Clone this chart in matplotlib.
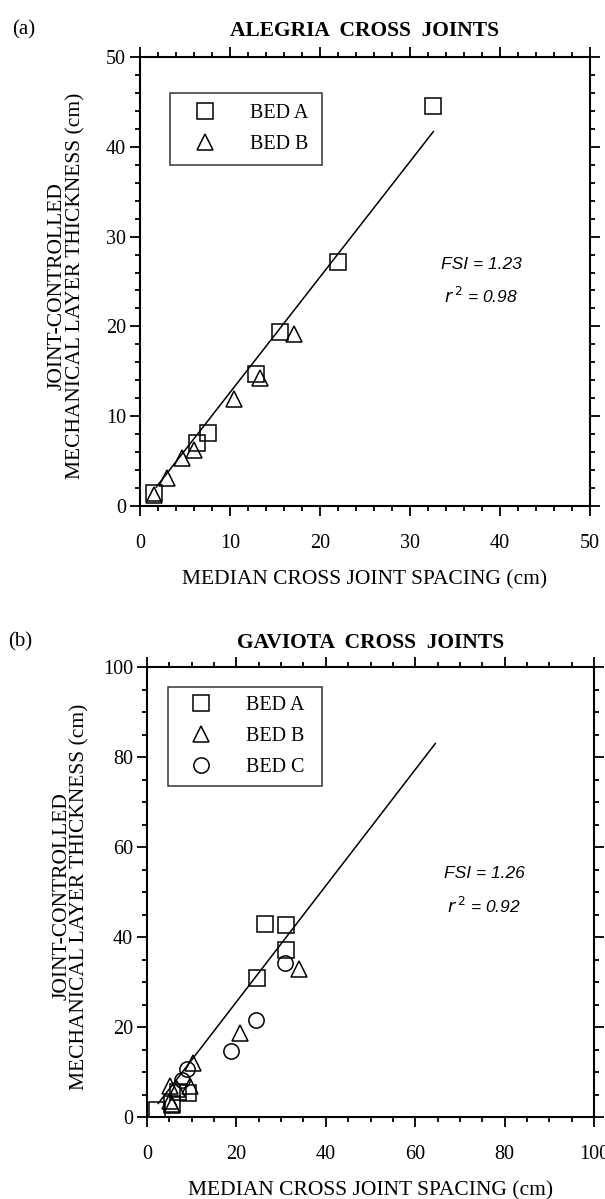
import matplotlib
matplotlib.use("Agg")
import matplotlib.pyplot as plt
from matplotlib.ticker import MultipleLocator

SERIF = "Liberation Serif"
SANS = "Liberation Sans"

# --- panel (a): Alegria cross joints ---
a_bedA_x = [1.5, 6.3, 7.5, 12.9, 15.6, 22.0, 32.5]
a_bedA_y = [1.5, 7.0, 8.1, 14.7, 19.4, 27.2, 44.5]
a_bedB_x = [1.5, 3.0, 4.7, 6.0, 10.4, 13.3, 17.1]
a_bedB_y = [1.2, 3.1, 5.4, 6.2, 11.9, 14.2, 19.2]
a_fit_x = [1.8, 32.6]
a_fit_y = [2.1, 41.7]

# --- panel (b): Gaviota cross joints ---
b_bedA_x = [2.2, 5.5, 7.0, 9.2, 24.5, 26.4, 31.2, 31.1]
b_bedA_y = [1.5, 3.0, 5.5, 5.3, 30.8, 43.0, 42.7, 37.1]
b_bedB_x = [5.1, 5.5, 5.1, 6.6, 9.6, 10.2, 20.8, 34.0]
b_bedB_y = [3.6, 2.7, 6.9, 6.2, 6.9, 12.0, 18.6, 33.0]
b_bedC_x = [7.8, 9.0, 18.9, 24.4, 30.9]
b_bedC_y = [8.2, 10.7, 14.7, 21.5, 34.2]
b_fit_x = [2.5, 64.5]
b_fit_y = [3.0, 83.0]

fig = plt.figure(figsize=(6.05, 11.99), dpi=100)
W, H = 605.0, 1199.0


def make_axes(x0, x1, ytop, ybot):
    return fig.add_axes([x0 / W, 1 - ybot / H, (x1 - x0) / W, (ybot - ytop) / H])


def style_axes(ax, lim, major, minor):
    ax.set_xlim(0, lim)
    ax.set_ylim(0, lim)
    ax.xaxis.set_major_locator(MultipleLocator(major))
    ax.xaxis.set_minor_locator(MultipleLocator(minor))
    ax.yaxis.set_major_locator(MultipleLocator(major))
    ax.yaxis.set_minor_locator(MultipleLocator(minor))
    for s in ax.spines.values():
        s.set_linewidth(1.5)
    ax.tick_params(which="both", direction="out", top=True, right=True,
                   labeltop=False, labelright=False, width=1.3)
    ax.tick_params(which="major", length=7)
    ax.tick_params(which="minor", length=3.5)
    ax.tick_params(axis="x", which="major", pad=13)
    ax.tick_params(axis="y", which="major", pad=3)
    for lab in ax.get_xticklabels() + ax.get_yticklabels():
        lab.set_fontfamily(SERIF)
        lab.set_fontsize(14.5)
    ax.set_xlabel("MEDIAN CROSS JOINT SPACING (cm)", fontfamily=SERIF, fontsize=15.5)
    ax.set_ylabel("JOINT-CONTROLLED\nMECHANICAL LAYER THICKNESS (cm)",
                  fontfamily=SERIF, fontsize=15.5, linespacing=0.95)


mk = dict(linestyle="none", markerfacecolor="none", markeredgecolor="black",
          markeredgewidth=1.1, markersize=11)
leg_kw = dict(loc="upper left", mode="expand", frameon=True, fancybox=False,
              edgecolor="black", borderaxespad=0, handletextpad=1.0,
              handlelength=2.4, prop={"family": SERIF, "size": 14.5})

# panel (a)
ax1 = make_axes(140, 590, 57, 506)
style_axes(ax1, 50, 10, 2)
ax1.plot(a_fit_x, a_fit_y, color="black", lw=1.1)
hA, = ax1.plot(a_bedA_x, a_bedA_y, marker="s", label="BED A", **mk)
hB, = ax1.plot(a_bedB_x, a_bedB_y, marker="^", label="BED B", **mk)
leg = ax1.legend(handles=[hA, hB], bbox_to_anchor=(0.067, 0.753, 0.337, 0.167),
                 borderpad=0.55, labelspacing=0.6, **leg_kw)
leg.get_frame().set_linewidth(1.1)
ax1.text(37.9, 26.9, "FSI = 1.23", fontfamily=SANS, style="italic", fontsize=12.5,
         ha="center", va="center")
ax1.text(37.9, 23.4, "$r^{\\,2}$ = 0.98", fontfamily=SANS, style="italic", fontsize=12.5,
         ha="center", va="center", math_fontfamily="dejavusans")
ax1.text(0.5, 1.058, "ALEGRIA  CROSS  JOINTS", transform=ax1.transAxes, ha="center",
         va="center", fontfamily=SERIF, fontweight="bold", fontsize=15.5)
fig.text(12 / W, 1 - 30 / H, "(a)", fontfamily=SERIF, fontsize=15, va="center")
ax1.xaxis.set_label_coords(0.5, -0.142)
ax1.yaxis.set_label_coords(-0.122, 0.49)

# panel (b)
ax2 = make_axes(147, 594, 667, 1117)
style_axes(ax2, 100, 20, 5)
ax2.plot(b_fit_x, b_fit_y, color="black", lw=1.1)
gA, = ax2.plot(b_bedA_x, b_bedA_y, marker="s", label="BED A", **mk)
gB, = ax2.plot(b_bedB_x, b_bedB_y, marker="^", label="BED B", **mk)
gC, = ax2.plot(b_bedC_x, b_bedC_y, marker="o", label="BED C", **mk)
leg2 = ax2.legend(handles=[gA, gB, gC], bbox_to_anchor=(0.047, 0.722, 0.344, 0.234),
                  borderpad=0.45, labelspacing=0.6, **leg_kw)
leg2.get_frame().set_linewidth(1.1)
ax2.text(75.4, 54.2, "FSI = 1.26", fontfamily=SANS, style="italic", fontsize=12.5,
         ha="center", va="center")
ax2.text(75.4, 46.9, "$r^{\\,2}$ = 0.92", fontfamily=SANS, style="italic", fontsize=12.5,
         ha="center", va="center", math_fontfamily="dejavusans")
ax2.text(0.5, 1.053, "GAVIOTA  CROSS  JOINTS", transform=ax2.transAxes, ha="center",
         va="center", fontfamily=SERIF, fontweight="bold", fontsize=15.5)
fig.text(8 / W, 1 - 642 / H, "(b)", fontfamily=SERIF, fontsize=15, va="center")
ax2.xaxis.set_label_coords(0.5, -0.142)
ax2.yaxis.set_label_coords(-0.128, 0.49)

fig.savefig("out.png", dpi=100)
